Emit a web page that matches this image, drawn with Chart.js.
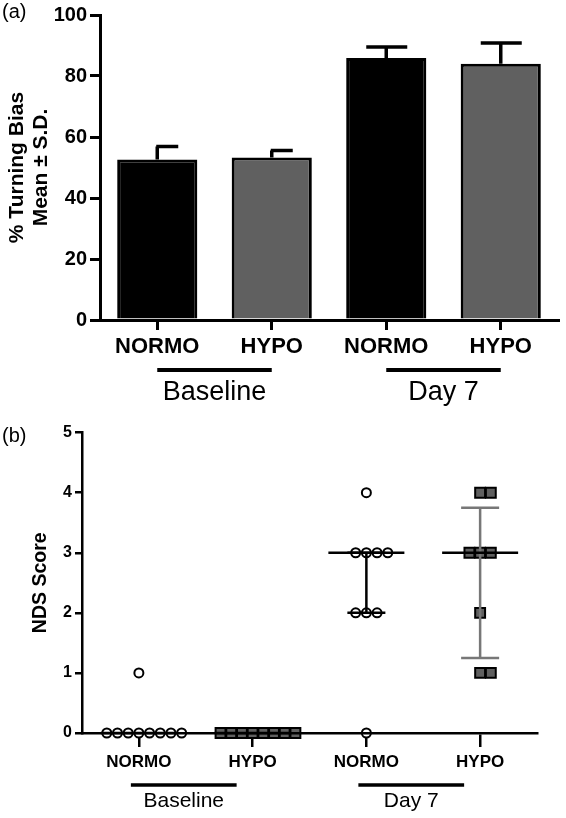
<!DOCTYPE html>
<html>
<head>
<meta charset="utf-8">
<script src="https://cdn.jsdelivr.net/npm/chart.js@4.4.1/dist/chart.umd.min.js"></script>
<style>
  body { margin: 0; background: #fff; width: 566px; height: 818px; position: relative; font-family: 'Liberation Sans', Arial, sans-serif; }
  .panel { position: absolute; left: 0; width: 566px; }
  #wrapA { top: 0; height: 410px; }
  #wrapB { top: 420px; height: 398px; }
  .tag { position: absolute; left: 2px; font-size: 20px; line-height: 20px; color: #000; }
</style>
</head>
<body>
<div class="panel" id="wrapA"><canvas id="chartA"></canvas></div>
<div class="panel" id="wrapB"><canvas id="chartB"></canvas></div>
<div class="tag" style="top:1px">(a)</div>
<div class="tag" style="top:425px">(b)</div>
<script>
// --- Data ---
const categories = ['NORMO', 'HYPO', 'NORMO', 'HYPO'];
const groupLabels = ['Baseline', 'Day 7'];
const groupSpans = [[0, 1], [2, 3]];

// (a) turning bias, mean and S.D.
const biasMean = [52.6, 53.3, 85.9, 84.0];
const biasSD = [4.3, 2.3, 3.6, 6.8];

// (b) NDS scores per animal
const ndsNormoBase = [1, 0, 0, 0, 0, 0, 0, 0, 0];
const ndsHypoBase = [0, 0, 0, 0, 0, 0, 0, 0];
const ndsNormoDay7 = [4, 3, 3, 3, 3, 2, 2, 2, 0];
const ndsHypoDay7 = [4, 4, 3, 3, 3, 2, 1, 1];
const ndsMedian = [0, 0, 3, 3];
const ndsErrLow = [0, 0, 2, 1.25];
const ndsErrHigh = [0, 0, 3, 3.75];

const FONT = "'Liberation Sans', Arial, sans-serif";
const GRAY = '#606060';
Chart.defaults.font.family = FONT;
Chart.defaults.color = '#000';
Chart.defaults.animation = false;

// --- shared plugin: group lines + labels under the x axis ---
function groupPlugin(opts) {
  return {
    id: 'groups',
    afterDraw(chart) {
      const { ctx, chartArea, scales: { x } } = chart;
      ctx.save();
      ctx.strokeStyle = '#000';
      ctx.fillStyle = '#000';
      ctx.lineWidth = opts.lineWidth;
      ctx.font = opts.font;
      ctx.textAlign = 'center';
      ctx.textBaseline = 'alphabetic';
      groupSpans.forEach((span, i) => {
        const x1 = x.getPixelForValue(span[0] + opts.base) + opts.startShift;
        const x2 = x.getPixelForValue(span[1] + opts.base) + opts.endShift;
        const ly = chartArea.bottom + opts.lineOffset;
        ctx.beginPath();
        ctx.moveTo(x1, ly);
        ctx.lineTo(x2, ly);
        ctx.stroke();
        ctx.fillText(groupLabels[i], (x1 + x2) / 2, chartArea.bottom + opts.textOffset);
      });
      ctx.restore();
    }
  };
}

// --- (a) error bars ---
const capSide = ['right', 'right', 'center', 'center'];
const barErrors = {
  id: 'barErrors',
  afterDatasetsDraw(chart) {
    const { ctx, scales: { y } } = chart;
    const bars = chart.getDatasetMeta(0).data;
    ctx.save();
    ctx.strokeStyle = '#000';
    ctx.lineWidth = 3.5;
    bars.forEach((bar, i) => {
      const top = y.getPixelForValue(biasMean[i] + biasSD[i]);
      ctx.beginPath();
      ctx.moveTo(bar.x, bar.y);
      ctx.lineTo(bar.x, top);
      if (capSide[i] === 'right') {
        ctx.moveTo(bar.x - 1, top);
        ctx.lineTo(bar.x + 21, top);
      } else {
        ctx.moveTo(bar.x - 20, top);
        ctx.lineTo(bar.x + 21, top);
      }
      ctx.stroke();
    });
    ctx.restore();
  }
};

new Chart(document.getElementById('chartA'), {
  type: 'bar',
  data: {
    labels: categories,
    datasets: [{
      data: biasMean,
      backgroundColor: ['#000', GRAY, '#000', GRAY],
      borderColor: '#000',
      borderWidth: 3,
      barPercentage: 0.7,
      categoryPercentage: 1
    }]
  },
  options: {
    responsive: true,
    maintainAspectRatio: false,
    layout: { padding: { top: 14, right: 8, left: 0, bottom: 0 } },
    plugins: { legend: { display: false }, tooltip: { enabled: false } },
    scales: {
      x: {
        offset: true,
        grid: { offset: false, drawOnChartArea: false, tickLength: 10, color: '#000', lineWidth: 3 },
        border: { color: '#000', width: 3 },
        ticks: { font: { size: 22, weight: 'bold' }, padding: 4, maxRotation: 0 },
        afterFit(s) { s.height = 90; }
      },
      y: {
        min: 0,
        max: 100,
        ticks: { stepSize: 20, font: { size: 20, weight: 'bold' }, padding: 3 },
        grid: { drawOnChartArea: false, tickLength: 10, color: '#000', lineWidth: 3 },
        border: { color: '#000', width: 3 },
        title: {
          display: true,
          text: ['% Turning Bias', 'Mean \u00b1 S.D.'],
          font: { size: 21, weight: 'bold', lineHeight: 1.15 },
          padding: { top: 5, bottom: 0 }
        },
        afterFit(s) { s.width = 100; }
      }
    }
  },
  plugins: [barErrors, groupPlugin({ base: 0, startShift: 0, endShift: 0, lineOffset: 50, textOffset: 80, lineWidth: 4, font: '27px ' + FONT })]
});

// --- (b) scatter with median and error bars ---
const JITTER = 0.094;
function spread(values, center) {
  const count = {};
  values.forEach(v => { count[v] = (count[v] || 0) + 1; });
  const used = {};
  return values.map(v => {
    used[v] = used[v] === undefined ? 0 : used[v] + 1;
    const slot = used[v] - Math.floor((count[v] - 1) / 2);
    return { x: center + slot * JITTER, y: v };
  });
}

const errColors = ['#000', '#000', '#000', '#777'];
const ndsStats = {
  id: 'ndsStats',
  afterDatasetsDraw(chart) {
    const { ctx, scales: { x, y } } = chart;
    ctx.save();
    ctx.lineWidth = 2.5;
    ndsMedian.forEach((m, i) => {
      const cx = x.getPixelForValue(i + 1);
      if (ndsErrHigh[i] > ndsErrLow[i]) {
        const y1 = y.getPixelForValue(ndsErrLow[i]);
        const y2 = y.getPixelForValue(ndsErrHigh[i]);
        ctx.strokeStyle = errColors[i];
        ctx.beginPath();
        ctx.moveTo(cx, y1); ctx.lineTo(cx, y2);
        ctx.moveTo(cx - 19, y1); ctx.lineTo(cx + 19, y1);
        ctx.moveTo(cx - 19, y2); ctx.lineTo(cx + 19, y2);
        ctx.stroke();
      }
      const my = y.getPixelForValue(m);
      ctx.strokeStyle = '#000';
      ctx.beginPath();
      ctx.moveTo(cx - 38, my); ctx.lineTo(cx + 38, my);
      ctx.stroke();
    });
    ctx.restore();
  }
};

const circle = { pointStyle: 'circle', pointRadius: 4.5, pointBackgroundColor: '#fff', pointBorderColor: '#000', pointBorderWidth: 2, clip: false };
const square = { pointStyle: 'rect', pointRadius: 7, pointBackgroundColor: GRAY, pointBorderColor: '#000', pointBorderWidth: 2, clip: false };

new Chart(document.getElementById('chartB'), {
  type: 'scatter',
  data: {
    datasets: [
      Object.assign({ data: spread(ndsNormoBase, 1) }, circle),
      Object.assign({ data: spread(ndsHypoBase, 2) }, square),
      Object.assign({ data: spread(ndsNormoDay7, 3) }, circle),
      Object.assign({ data: spread(ndsHypoDay7, 4) }, square)
    ]
  },
  options: {
    responsive: true,
    maintainAspectRatio: false,
    layout: { padding: { top: 10, right: 29, left: 0, bottom: 0 } },
    plugins: { legend: { display: false }, tooltip: { enabled: false } },
    scales: {
      x: {
        type: 'linear',
        min: 0.5,
        max: 4.5,
        afterBuildTicks(s) { s.ticks = categories.map((c, i) => ({ value: i + 1 })); },
        ticks: { callback: v => categories[v - 1], font: { size: 17, weight: 'bold' }, padding: 5, maxRotation: 0 },
        grid: { drawOnChartArea: false, tickLength: 14, color: '#000', lineWidth: 2.5 },
        border: { color: '#000', width: 2.5, z: 1 },
        afterFit(s) { s.height = 85; }
      },
      y: {
        min: 0,
        max: 5,
        ticks: { stepSize: 1, font: { size: 16, weight: 'bold' }, padding: 3 },
        grid: { drawOnChartArea: false, tickLength: 7, color: '#000', lineWidth: 2.5 },
        border: { color: '#000', width: 2.5 },
        title: {
          display: true,
          text: 'NDS Score',
          font: { size: 19.5, weight: 'bold', lineHeight: 1.2 },
          padding: { top: 29, bottom: 0 }
        },
        afterFit(s) { s.width = 82; }
      }
    }
  },
  plugins: [ndsStats, groupPlugin({ base: 1, startShift: -8, endShift: -16, lineOffset: 52, textOffset: 74, lineWidth: 3.5, font: '21px ' + FONT })]
});
</script>
</body>
</html>
